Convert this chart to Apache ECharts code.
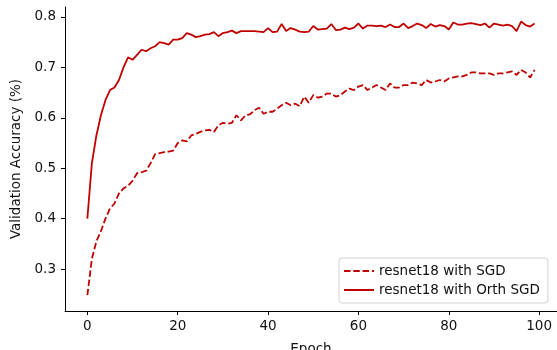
<!DOCTYPE html>
<html><head><meta charset="utf-8">
<script src="https://cdn.jsdelivr.net/npm/echarts@6/dist/echarts.min.js"></script>
<style>html,body{margin:0;padding:0;background:#fff}#c{width:557px;height:350px}</style>
</head><body><div id="c"></div>
<script>
const epochs = Array.from({length:100},(_,i)=>i);
const sgd = [0.248,0.32,0.355,0.375,0.40,0.42,0.43,0.45,0.46,0.465,
0.475,0.49,0.492,0.495,0.51,0.528,0.53,0.532,0.533,0.535,
0.55,0.555,0.553,0.565,0.568,0.572,0.575,0.576,0.572,0.585,
0.59,0.588,0.59,0.605,0.595,0.605,0.607,0.615,0.62,0.608,
0.612,0.612,0.618,0.625,0.63,0.625,0.628,0.623,0.642,0.63,
0.645,0.64,0.642,0.648,0.648,0.642,0.645,0.652,0.658,0.655,
0.662,0.665,0.655,0.66,0.665,0.66,0.655,0.668,0.66,0.66,
0.665,0.665,0.67,0.668,0.665,0.675,0.67,0.672,0.675,0.672,
0.678,0.68,0.682,0.682,0.685,0.69,0.69,0.688,0.688,0.688,
0.685,0.688,0.688,0.69,0.692,0.685,0.695,0.69,0.68,0.695];
const orth = [0.40,0.51,0.565,0.605,0.635,0.655,0.66,0.675,0.70,0.72,
0.715,0.725,0.735,0.732,0.738,0.742,0.75,0.748,0.745,0.755,
0.755,0.758,0.768,0.765,0.76,0.762,0.765,0.766,0.77,0.762,
0.768,0.77,0.773,0.768,0.772,0.772,0.772,0.772,0.771,0.77,
0.778,0.77,0.771,0.786,0.772,0.778,0.775,0.771,0.77,0.771,
0.782,0.775,0.776,0.777,0.786,0.774,0.775,0.779,0.776,0.779,
0.787,0.777,0.783,0.783,0.782,0.783,0.78,0.785,0.78,0.78,
0.787,0.778,0.782,0.787,0.784,0.778,0.786,0.781,0.784,0.782,
0.775,0.789,0.785,0.785,0.787,0.788,0.786,0.784,0.787,0.779,
0.787,0.785,0.783,0.785,0.782,0.772,0.791,0.784,0.781,0.787];
const xTicks = [0,20,40,60,80,100];
const yTicks = [0.3,0.4,0.5,0.6,0.7,0.8];
const names = ['resnet18 with SGD','resnet18 with Orth SGD'];
const color = '#c00000';
const font = 'DejaVu Sans';
const fs = 13.5;
const chart = echarts.init(document.getElementById('c'),null,{renderer:'canvas'});
chart.setOption({
  animation:false,
  grid:{left:65,top:7,right:0,bottom:39,containLabel:false,outerBoundsMode:'none'},
  xAxis:{type:'value',min:-4.95,max:103.95,
    name:'Epoch',nameLocation:'middle',nameGap:31,
    nameTextStyle:{fontFamily:font,fontSize:fs,color:'#111'},
    axisLine:{show:true,onZero:false,lineStyle:{color:'#000',width:1}},
    axisTick:{show:true,length:4,customValues:xTicks,lineStyle:{color:'#000'}},
    axisLabel:{customValues:xTicks,fontFamily:font,fontSize:fs,color:'#111',margin:8},
    splitLine:{show:false}},
  yAxis:{type:'value',min:0.2167,max:0.8198,
    name:'Validation Accuracy (%)',nameLocation:'middle',nameGap:41,
    nameTextStyle:{fontFamily:font,fontSize:fs,color:'#111'},
    axisLine:{show:true,onZero:false,lineStyle:{color:'#000',width:1}},
    axisTick:{show:true,length:4,customValues:yTicks,lineStyle:{color:'#000'}},
    axisLabel:{customValues:yTicks,fontFamily:font,fontSize:fs,color:'#111',margin:9,
      formatter:v=>v.toFixed(1)},
    splitLine:{show:false}},
  legend:{orient:'vertical',left:339,top:258,padding:[6,8,6,4],itemGap:5,
    itemWidth:30,itemHeight:14,
    backgroundColor:'rgba(255,255,255,0.85)',borderColor:'#d0d0d0',borderWidth:1,borderRadius:3,
    textStyle:{fontFamily:font,fontSize:fs,color:'#111'},
    itemStyle:{opacity:0},
    data:names},
  series:[
    {name:names[0],type:'line',data:epochs.map((e,i)=>[e,sgd[i]]),showSymbol:false,symbol:'none',
      lineStyle:{color:color,width:1.8,type:[6.5,2.8]},itemStyle:{color:color}},
    {name:names[1],type:'line',data:epochs.map((e,i)=>[e,orth[i]]),showSymbol:false,symbol:'none',
      lineStyle:{color:color,width:1.8},itemStyle:{color:color}}
  ]
});
</script></body></html>
